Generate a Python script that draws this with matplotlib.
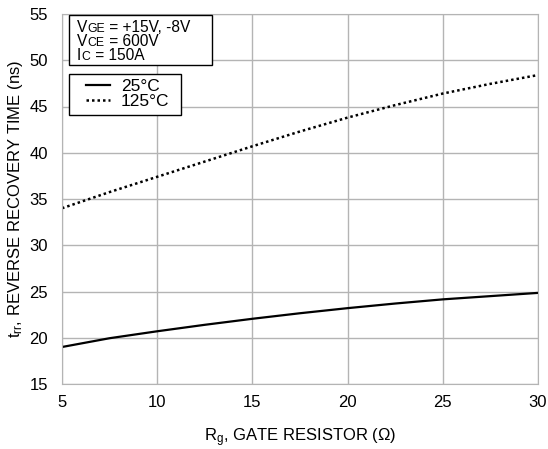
import matplotlib
matplotlib.use("Agg")
import matplotlib.pyplot as plt
from matplotlib.patches import Rectangle

plt.rcParams['font.family'] = ['Liberation Sans', 'DejaVu Sans']
plt.rcParams['mathtext.fontset'] = 'custom'
plt.rcParams['mathtext.rm'] = 'Liberation Sans'
plt.rcParams['mathtext.it'] = 'Liberation Sans'

rg = [5, 7.5, 10, 12.5, 15, 17.5, 20, 22.5, 25, 27.5, 30]
trr_25 = [19.0, 19.95, 20.7, 21.4, 22.05, 22.65, 23.2, 23.7, 24.15, 24.5, 24.85]
trr_125 = [34.0, 35.75, 37.4, 39.05, 40.7, 42.3, 43.8, 45.15, 46.4, 47.45, 48.4]
xticks = [5, 10, 15, 20, 25, 30]
yticks = [15, 20, 25, 30, 35, 40, 45, 50, 55]
series_labels = ['25°C', '125°C']
# (main letter, subscript, remainder) for each condition line
cond_lines = [('V', 'GE', ' = +15V, -8V'), ('V', 'CE', ' = 600V'), ('I', 'C', ' = 150A')]

W, H = 548, 449
fig = plt.figure(figsize=(W/100, H/100), dpi=100)
L, R, T, B = 62, 538, 14, 384
ax = fig.add_axes([L/W, 1-B/H, (R-L)/W, (B-T)/H])

def ax_xy(px, py):
    return (px-L)/(R-L), (B-py)/(B-T)

ax.plot(rg, trr_25, color='black', lw=1.6, ls='-', label=series_labels[0])
ax.plot(rg, trr_125, color='black', lw=1.8, ls=(0, (1, 1.2)), label=series_labels[1])

ax.set_xlim(5, 30)
ax.set_ylim(15, 55)
ax.set_xticks(xticks)
ax.set_yticks(yticks)
ax.grid(True, color='#b4b4b4', lw=1.0)
for s in ax.spines.values():
    s.set_color('#b4b4b4')
ax.tick_params(length=0, labelsize=12)
ax.tick_params(axis='y', pad=10)
ax.tick_params(axis='x', pad=8)

ax.set_xlabel('R$_{\\mathrm{g}}$, GATE RESISTOR (Ω)', fontsize=12, labelpad=12)
ax.set_ylabel('t$_{\\mathrm{rr}}$, REVERSE RECOVERY TIME (ns)', fontsize=12, labelpad=3)

# condition box
bx0, by0 = ax_xy(69.3, 65)
bx1, by1 = ax_xy(211.7, 15)
ax.add_patch(Rectangle((bx0, by0), bx1-bx0, by1-by0,
                       transform=ax.transAxes, facecolor='white',
                       edgecolor='black', lw=1.0, zorder=5))
for i, (m, sub, rest) in enumerate(cond_lines):
    tx, ty = ax_xy(77, 31.5 + 14.5*i)
    t1 = ax.text(tx, ty, m, transform=ax.transAxes, fontsize=11.2,
                 va='baseline', ha='left', zorder=6)
    t2 = ax.annotate(sub, xy=(1, 0), xycoords=t1, xytext=(0.3, 0),
                     textcoords='offset points', fontsize=8.8,
                     va='bottom', ha='left', zorder=6)
    ax.annotate(rest, xy=(1, 0), xycoords=t2, xytext=(0, 0),
                textcoords='offset points', fontsize=11.2,
                va='bottom', ha='left', zorder=6)

# legend frame
lx0, ly0 = ax_xy(69.3, 115)
lx1, ly1 = ax_xy(180.7, 74)
ax.add_patch(Rectangle((lx0, ly0), lx1-lx0, ly1-ly0,
                       transform=ax.transAxes, facecolor='white',
                       edgecolor='black', lw=1.0, zorder=5))
leg = ax.legend(loc='upper left', bbox_to_anchor=ax_xy(86, 79),
                borderaxespad=0, frameon=False, borderpad=0,
                fontsize=12.5, handlelength=1.4, handletextpad=0.62,
                labelspacing=0.0)
leg.set_zorder(7)

fig.savefig('out.png', dpi=100)
